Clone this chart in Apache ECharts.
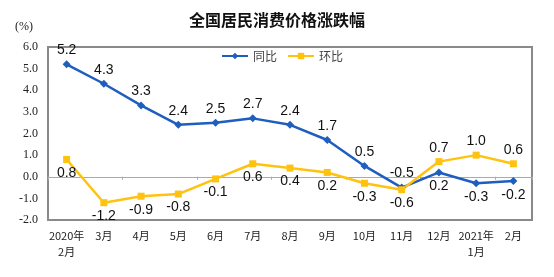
<!DOCTYPE html>
<html><head><meta charset="utf-8">
<script src="https://cdn.jsdelivr.net/npm/echarts@6/dist/echarts.min.js"></script>
<style>html,body{margin:0;padding:0;background:#fff}#c{width:554px;height:277px}</style>
</head><body><div id="c"></div>
<script>
const categories = ['2020年\n2月','3月','4月','5月','6月','7月','8月','9月','10月','11月','12月','2021年\n1月','2月'];
const yoy = [5.2,4.3,3.3,2.4,2.5,2.7,2.4,1.7,0.5,-0.5,0.2,-0.3,-0.2];
const mom = [0.8,-1.2,-0.9,-0.8,-0.1,0.6,0.4,0.2,-0.3,-0.6,0.7,1.0,0.6];
const yoyLabelPos = ['top','top','top','top','top','top','top','top','top','top','bottom','bottom','bottom'];
const momLabelPos = ['bottom','bottom','bottom','bottom','bottom','bottom','bottom','bottom','bottom','bottom','top','top','top'];

const labelStyle = {fontFamily:'Liberation Sans, Arial', fontSize:14, color:'#111', distance:3,
  formatter:p=>p.value.toFixed(1)};
function withLabels(vals, pos){
  return vals.map((v,i)=>({value:v, label:{position:pos[i]}}));
}
const chart = echarts.init(document.getElementById('c'), null, {renderer:'canvas'});
chart.setOption({
  animation:false,
  title:{text:'全国居民消费价格涨跌幅', left:'center', top:7,
    textStyle:{fontFamily:'Noto Sans CJK SC', fontSize:16, fontWeight:'bold', color:'#111'}},
  graphic:[
    {type:'text', left:15, top:21, style:{text:'(%)', font:'12px Liberation Serif', fill:'#222'}}
  ],
  legend:{top:45, left:216, itemWidth:26, itemHeight:8, itemGap:10,
    textStyle:{fontFamily:'Noto Sans CJK SC', fontSize:12, color:'#444'}},
  grid:{left:48, right:22, top:47, bottom:57, show:true, borderWidth:2, borderColor:'#8a8a8a', backgroundColor:'#ffffff'},
  xAxis:[{type:'category', data:categories, boundaryGap:true, position:'bottom',
      axisLine:{show:false, onZero:false}, axisTick:{show:false},
      axisLabel:{interval:0, fontFamily:'Noto Sans CJK SC', fontSize:11, color:'#222', margin:8, lineHeight:16}},
    {type:'category', data:categories, boundaryGap:true,
      axisLine:{show:true, onZero:true, lineStyle:{color:'#aaa', width:1}},
      axisTick:{show:true, inside:true, length:3, lineStyle:{color:'#aaa'}},
      axisLabel:{show:false}}],
  yAxis:[{type:'value', min:-2, max:6, interval:1, position:'left',
    axisLine:{show:false}, axisTick:{show:false}, splitLine:{show:false},
    axisLabel:{formatter:v=>v.toFixed(1), fontFamily:'Liberation Serif', fontSize:12, color:'#222', margin:10}}],
  series:[
    {name:'同比', type:'line', data:withLabels(yoy,yoyLabelPos), color:'#1E5EBE',
      symbol:'diamond', symbolSize:8, lineStyle:{width:2.5},
      label:Object.assign({show:true}, labelStyle)},
    {name:'环比', type:'line', data:withLabels(mom,momLabelPos), color:'#FFC20E',
      symbol:'rect', symbolSize:7, lineStyle:{width:2.5},
      label:Object.assign({show:true}, labelStyle)}
  ]
});
</script></body></html>
